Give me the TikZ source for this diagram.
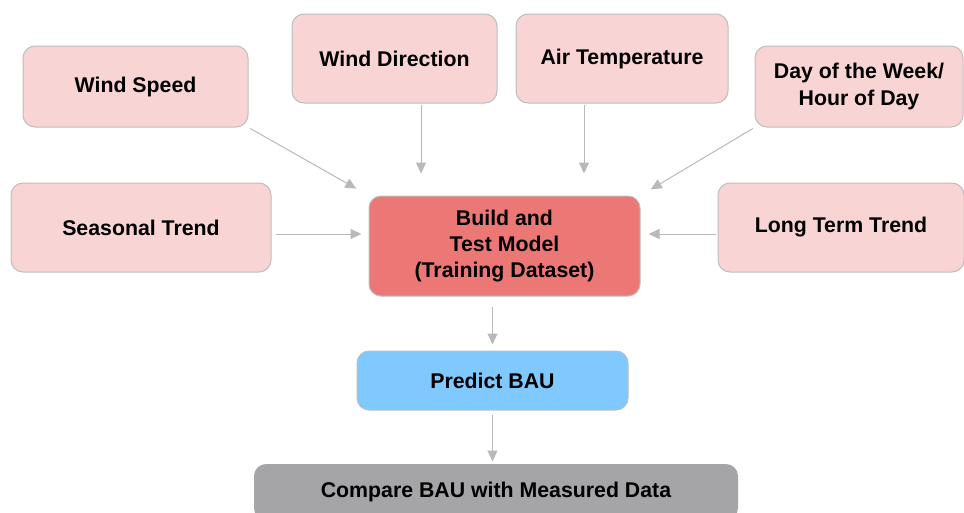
\documentclass[tikz,border=0pt]{standalone}
\usepackage{fontspec}
\setmainfont{Liberation Sans}
\usetikzlibrary{arrows.meta}
\definecolor{pinkfill}{RGB}{248,212,212}
\definecolor{redfill}{RGB}{236,120,118}
\definecolor{bluefill}{RGB}{127,201,255}
\definecolor{grayfill}{RGB}{165,165,168}
\definecolor{edgegray}{RGB}{190,190,190}
\definecolor{arrgray}{RGB}{185,185,188}
\tikzset{
  box/.style={draw=edgegray, line width=1pt, rounded corners=12pt, align=center,
    font=\fontsize{21.3}{26.3}\selectfont\bfseries, inner sep=0pt},
  inbox/.style={box, fill=pinkfill},
  arr/.style={draw=arrgray, line width=1pt, -{Triangle[width=10pt,length=11pt]}}
}
\begin{document}
\begin{tikzpicture}[x=1pt,y=-1pt]
\useasboundingbox (0,0) rectangle (964,512);
\clip (0,0) rectangle (964,512);
\node[inbox, minimum width=225pt, minimum height=81pt] (ws) at (135.5,86.5) {Wind Speed};
\node[inbox, minimum width=205pt, minimum height=89pt] (wd) at (394.5,58.5) {Wind Direction};
\node[inbox, minimum width=212pt, minimum height=89pt] (at) at (622,58.5) {Air Temperature};
\node[inbox, minimum width=208pt, minimum height=81pt] (dw) at (859,86.5) {Day of the Week/\\Hour of Day};
\node[inbox, minimum width=260pt, minimum height=89pt] (st) at (141,227.5) {Seasonal Trend};
\node[inbox, minimum width=246pt, minimum height=89pt] (lt) at (841,227.5) {Long Term Trend};
\node[box, fill=redfill, minimum width=271pt, minimum height=100pt] (bm) at (504.5,246) {Build and\\Test Model\\(Training Dataset)};
\node[box, fill=bluefill, minimum width=271pt, minimum height=59pt] (pb) at (492.5,380.5) {Predict BAU};
\node[box, fill=grayfill, draw=none, minimum width=484pt, minimum height=56pt] (cb) at (496,492) {\raisebox{2pt}{Compare BAU with Measured Data}};

\draw[arr, shorten <=2pt, shorten >=14pt] (ws.south east) -- (bm.north west);
\draw[arr, shorten <=2pt, shorten >=12pt] (dw.south west) -- (bm.north east);
\draw[arr, shorten <=1pt, shorten >=22pt] ([xshift=26.5pt]wd.south) -- ([xshift=26.5pt]wd.south |- bm.north);
\draw[arr, shorten <=1pt, shorten >=22pt] ([xshift=-38pt]at.south) -- ([xshift=-38pt]at.south |- bm.north);
\draw[arr, shorten <=4pt, shorten >=7pt] ([yshift=-6.5pt]st.east) -- ([yshift=-6.5pt]st.east -| bm.west);
\draw[arr, shorten <=2pt, shorten >=8pt] ([yshift=-6.5pt]lt.west) -- ([yshift=-6.5pt]lt.west -| bm.east);
\draw[arr, shorten <=10pt, shorten >=6pt] (pb.north |- bm.south) -- (pb.north);
\draw[arr, shorten <=4pt, shorten >=2pt] (pb.south) -- (pb.south |- cb.north);
\end{tikzpicture}
\end{document}
